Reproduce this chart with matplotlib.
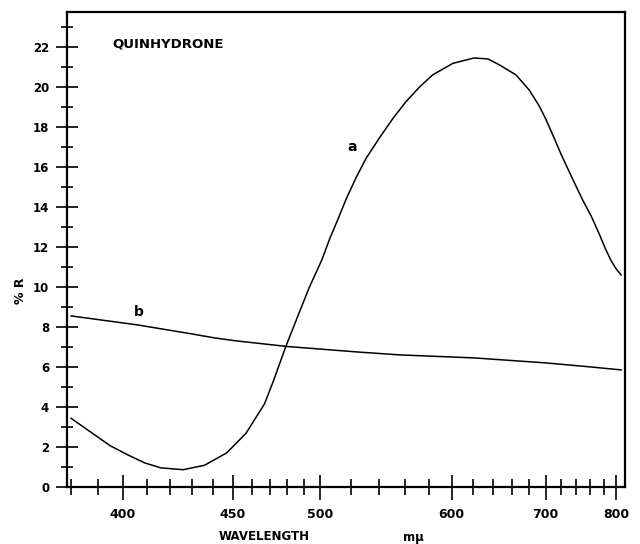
import matplotlib
matplotlib.use("Agg")
import matplotlib.pyplot as plt
from matplotlib.ticker import FixedLocator, NullFormatter

# curve a (quinhydrone): wavelength (m\u03bc) vs %R
wl_a = [380, 388, 395, 402, 409, 416, 426, 436, 447, 457, 467, 472, 479, 486,
        493, 501, 506, 511, 517, 524, 531, 541, 551, 561, 572, 583, 601, 621,
        635, 647, 665, 680, 692, 700, 710, 720, 735, 749, 762, 773, 783, 792,
        800, 808]
r_a = [3.43, 2.68, 2.05, 1.6, 1.2, 0.95, 0.86, 1.08, 1.7, 2.68, 4.15, 5.3,
       7.0, 8.5, 9.95, 11.35, 12.4, 13.3, 14.4, 15.5, 16.45, 17.5, 18.45,
       19.27, 20.0, 20.6, 21.18, 21.45, 21.4, 21.1, 20.6, 19.85, 19.05, 18.4,
       17.5, 16.6, 15.4, 14.35, 13.5, 12.68, 11.9, 11.3, 10.9, 10.6]

# curve b
wl_b = [380, 406, 430, 441, 452, 480, 524, 556, 621, 700, 760, 808]
r_b = [8.55, 8.1, 7.65, 7.45, 7.3, 7.02, 6.75, 6.6, 6.45, 6.2, 6.0, 5.85]

major_x = [400, 450, 500, 600, 700, 800]
minor_x = list(range(380, 500, 10)) + list(range(520, 820, 20))
major_y = list(range(0, 24, 2))
minor_y = list(range(1, 24, 2))

fig = plt.figure(figsize=(6.4, 5.44), dpi=100)
ax = fig.add_axes([0.105, 0.105, 0.872, 0.873])

# the wavelength axis is linear in 1/lambda
ax.set_xscale("function", functions=(lambda x: -1000.0 / x, lambda u: -1000.0 / u))

ax.plot(wl_a, r_a, color="black", lw=1.1)
ax.plot(wl_b, r_b, color="black", lw=1.1)

ax.set_xlim(378.6, 815)
ax.set_ylim(0, 23.75)

ax.xaxis.set_major_locator(FixedLocator(major_x))
ax.xaxis.set_minor_locator(FixedLocator(minor_x))
ax.xaxis.set_minor_formatter(NullFormatter())
ax.set_xticklabels([str(v) for v in major_x])
ax.yaxis.set_major_locator(FixedLocator(major_y))
ax.yaxis.set_minor_locator(FixedLocator(minor_y))
ax.set_yticklabels([str(v) for v in major_y])

for s in ax.spines.values():
    s.set_linewidth(1.6)

ax.tick_params(axis="x", which="major", direction="inout", length=18, width=1.2,
               pad=6, labelsize=9)
ax.tick_params(axis="x", which="minor", direction="inout", length=12, width=1.2)
ax.tick_params(axis="y", which="major", direction="inout", length=16, width=1.2,
               pad=5, labelsize=8.5)
ax.tick_params(axis="y", which="minor", direction="inout", length=9, width=1.2)
for lab in ax.get_xticklabels() + ax.get_yticklabels():
    lab.set_fontweight("bold")

fig.text(112 / 640, 1 - 44 / 544, "QUINHYDRONE", fontsize=9.5, fontweight="bold",
         va="center", ha="left")

ax.text(521, 17.0, "a", fontsize=10, fontweight="bold", ha="center", va="center")
ax.text(406.5, 8.75, "b", fontsize=10, fontweight="bold", ha="center", va="center")

fig.text(264 / 640, 1 - 537 / 544, "WAVELENGTH", fontsize=8.5, fontweight="bold",
         ha="center", va="center")
fig.text(413 / 640, 1 - 537 / 544, "m\u03bc", fontsize=8.5, fontweight="bold",
         ha="center", va="center")
fig.text(20 / 640, 1 - 291 / 544, "% R", fontsize=9, fontweight="bold",
         rotation=90, ha="center", va="center")

fig.savefig("out.png", dpi=100)
